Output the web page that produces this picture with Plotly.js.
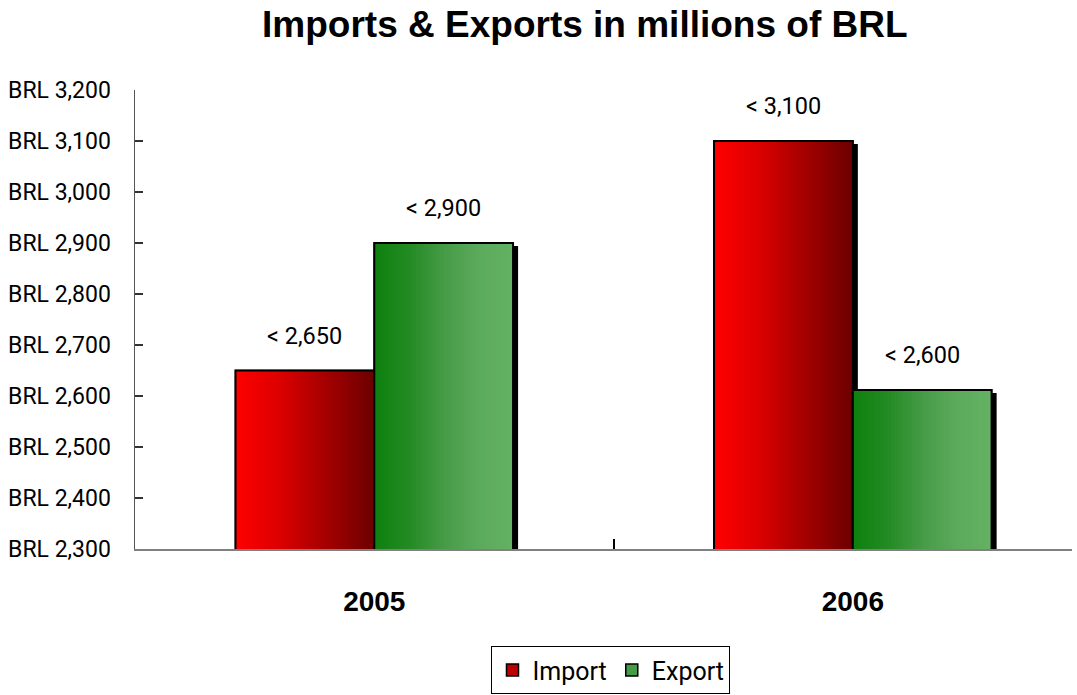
<!DOCTYPE html>
<html>
<head>
<meta charset="utf-8">
<script src="https://cdn.plot.ly/plotly-3.0.1.min.js"></script>
<style>html,body{margin:0;padding:0;background:#fff;}#chart{width:1077px;height:695px;}</style>
</head>
<body>
<div id="chart"></div>
<script>
// ---- data ----
const categories = ["2005", "2006"];
const seriesNames = ["Import", "Export"];
const importValues = [2650, 3100];
const exportValues = [2900, 2612];
const importLabels = ["< 2,650", "< 3,100"];
const exportLabels = ["< 2,900", "< 2,600"];
const yMin = 2300, yMax = 3200, yStep = 100;

// ---- style ----
const NARROW = 'Roboto, "Liberation Sans", Arial, sans-serif';
const BOLD = '"Liberation Sans", Arial, sans-serif';
const BAR_W = 0.29;
const SHADOW_DX = 0.0105;   // ~5px
const SHADOW_DY = 6;        // ~3px
const N = 40;
const importStops = [[0, [255, 0, 0]], [0.3, [222, 0, 0]], [0.65, [165, 0, 0]], [1, [108, 0, 0]]];
const exportStops = [[0, [14, 128, 14]], [0.25, [35, 138, 35]], [0.5, [70, 155, 70]], [0.75, [92, 170, 92]], [1, [100, 177, 100]]];

function ramp(stops, t) {
  for (let i = 1; i < stops.length; i++) {
    if (t <= stops[i][0]) {
      const a = stops[i - 1], b = stops[i];
      const f = (t - a[0]) / (b[0] - a[0]);
      const c = a[1].map((v, k) => Math.round(v + (b[1][k] - v) * f));
      return `rgb(${c[0]},${c[1]},${c[2]})`;
    }
  }
  const c = stops[stops.length - 1][1];
  return `rgb(${c[0]},${c[1]},${c[2]})`;
}

const traces = [];
const annotations = [];
function addSeries(name, vals, labels, off, stops) {
  // shadow
  traces.push({type: 'bar', x: categories, y: vals.map(v => v - SHADOW_DY), offset: off + SHADOW_DX, width: BAR_W,
    marker: {color: '#000', line: {width: 0}}, showlegend: false, hoverinfo: 'skip'});
  // base fill (legend carrier)
  traces.push({type: 'bar', name: name, x: categories, y: vals, offset: off, width: BAR_W,
    marker: {color: ramp(stops, 0.5), line: {color: '#000', width: 1.5}}, showlegend: true});
  // gradient slices
  for (let i = 0; i < N; i++) {
    const start = i * BAR_W / N;
    const w = Math.min(BAR_W / N * 1.8, BAR_W - start);
    traces.push({type: 'bar', x: categories, y: vals, offset: off + start, width: w,
      marker: {color: ramp(stops, (i + 0.5) / N), line: {width: 0}}, showlegend: false, hoverinfo: 'skip'});
  }
  // outline
  traces.push({type: 'bar', x: categories, y: vals, offset: off, width: BAR_W,
    marker: {color: 'rgba(0,0,0,0)', line: {color: '#000', width: 2}}, showlegend: false, hoverinfo: 'skip'});
  vals.forEach((v, i) => {
    annotations.push({x: i + off + BAR_W / 2, y: v, xref: 'x', yref: 'y', text: labels[i], showarrow: false,
      yanchor: 'middle', yshift: 35, font: {family: NARROW, size: 23.5, color: '#000'}});
  });
}
addSeries(seriesNames[0], importValues, importLabels, -BAR_W, importStops);
addSeries(seriesNames[1], exportValues, exportLabels, 0, exportStops);

const layout = {
  width: 1077, height: 695,
  margin: {l: 135, r: 5, t: 90, b: 146, autoexpand: false},
  paper_bgcolor: '#fff', plot_bgcolor: '#fff',
  barmode: 'overlay',
  separators: '.,',
  title: {text: 'Imports & Exports in millions of BRL', x: 0.543, xanchor: 'center', y: 0.966, yanchor: 'middle',
    font: {family: BOLD, size: 37, color: '#000', weight: 'bold'}},
  xaxis: {type: 'category', categoryarray: categories, range: [-0.5, 1.458], showline: true, linecolor: '#808080', linewidth: 2,
    showgrid: false, zeroline: false, ticks: 'inside', tickson: 'boundaries', ticklen: 10, tickcolor: '#000', tickwidth: 2,
    ticklabelstandoff: 26, tickfont: {family: BOLD, size: 28, color: '#000', weight: 'bold'}},
  yaxis: {range: [yMin, yMax], dtick: yStep, tick0: yMin, tickprefix: 'BRL ', tickformat: ',d', showline: true,
    linecolor: '#555', linewidth: 1.5, showgrid: false, zeroline: false, ticks: 'inside', ticklen: 8, tickcolor: '#333',
    tickwidth: 1.5, ticklabelstandoff: 18, tickfont: {family: NARROW, size: 23, color: '#000'}},
  legend: {orientation: 'h', x: 0.508, xanchor: 'center', y: -0.212, yanchor: 'top', bordercolor: '#000', borderwidth: 1,
    font: {family: NARROW, size: 25, color: '#000'}, traceorder: 'normal'},
  annotations: annotations,
  showlegend: true
};
Plotly.newPlot('chart', traces, layout, {displayModeBar: false, staticPlot: true});
</script>
</body>
</html>
